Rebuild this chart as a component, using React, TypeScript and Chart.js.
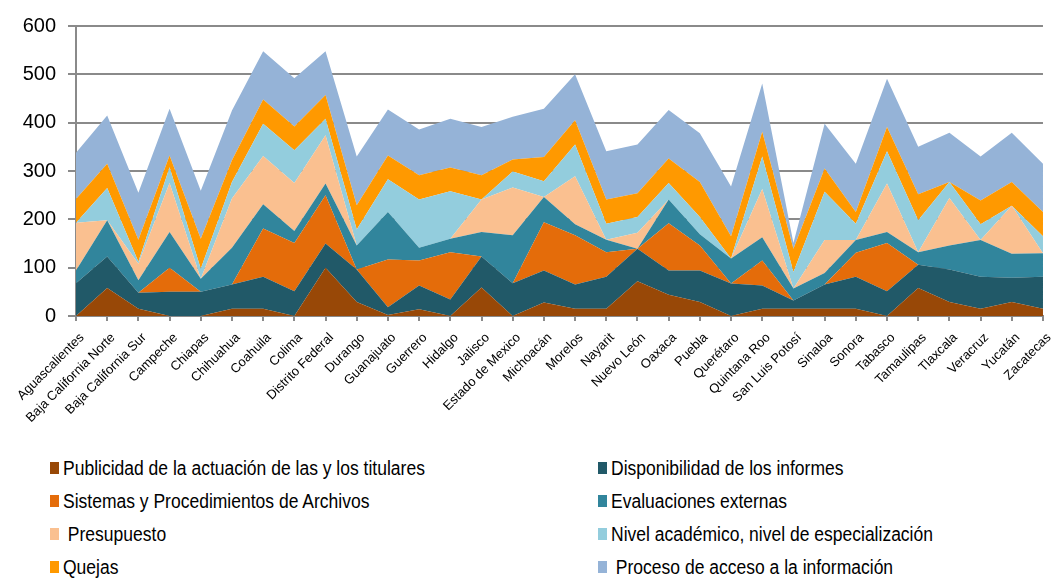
import React, { useEffect, useRef } from "react";
import { Chart, registerables } from "chart.js";

Chart.register(...registerables);

const categories = [
  "Aguascalientes", "Baja California Norte", "Baja California Sur", "Campeche", "Chiapas",
  "Chihuahua", "Coahuila", "Colima", "Distrito Federal", "Durango", "Guanajuato", "Guerrero",
  "Hidalgo", "Jalisco", "Estado de Mexico", "Michoacán", "Morelos", "Nayarit", "Nuevo León",
  "Oaxaca", "Puebla", "Querétaro", "Quintana Roo", "San Luis Potosí", "Sinaloa", "Sonora",
  "Tabasco", "Tamaulipas", "Tlaxcala", "Veracruz", "Yucatán", "Zacatecas",
];

const publicidad = [0, 58, 15, 0, 0, 15, 15, 0, 100, 29, 2, 14, 0, 59, 0, 28, 15, 15, 72, 44, 29, 0, 15, 15, 15, 15, 0, 58, 29, 15, 29, 15];
const disponibilidad = [68, 65, 33, 50, 50, 50, 66, 51, 50, 67, 16, 49, 34, 64, 68, 66, 50, 66, 67, 50, 65, 67, 48, 17, 50, 66, 51, 48, 67, 66, 50, 66];
const sistemas = [0, 0, 0, 50, 0, 0, 100, 100, 100, 0, 99, 52, 98, 0, 0, 100, 102, 51, 0, 98, 52, 0, 52, 0, 0, 50, 100, 0, 0, 0, 0, 0];
const evaluaciones = [26, 75, 26, 74, 27, 76, 50, 25, 24, 50, 98, 26, 28, 51, 99, 52, 23, 26, 0, 49, 23, 52, 48, 25, 24, 26, 23, 26, 50, 76, 50, 49];
const presupuesto = [99, 0, 34, 101, 0, 102, 100, 99, 100, 0, 0, 0, 0, 67, 99, 0, 99, 0, 33, 0, 0, 0, 100, 0, 68, 0, 100, 0, 98, 0, 99, 0];
const nivel = [0, 67, 4, 33, 21, 34, 67, 68, 34, 33, 68, 100, 98, 0, 33, 33, 66, 33, 33, 34, 36, 0, 67, 34, 100, 34, 67, 66, 33, 33, 0, 35];
const quejas = [49, 50, 46, 24, 62, 45, 50, 49, 49, 50, 49, 50, 49, 50, 25, 50, 50, 50, 49, 51, 72, 46, 51, 48, 48, 24, 50, 54, 0, 49, 49, 50];
const proceso = [96, 100, 97, 97, 99, 103, 100, 100, 91, 101, 95, 95, 101, 100, 88, 100, 95, 100, 101, 100, 101, 103, 100, 12, 93, 100, 100, 98, 102, 91, 102, 100];

const seriesNames = [
  "Publicidad de la actuación de las y los titulares",
  "Disponibilidad de los informes",
  "Sistemas y Procedimientos de Archivos",
  "Evaluaciones externas",
  " Presupuesto",
  "Nivel académico, nivel de especialización",
  "Quejas",
  " Proceso de acceso a la información",
];
const seriesData = [publicidad, disponibilidad, sistemas, evaluaciones, presupuesto, nivel, quejas, proceso];
const seriesColors = ["#984807", "#215968", "#E46C0A", "#31859C", "#FAC090", "#93CDDD", "#FF9900", "#95B3D7"];

const yTicks = [0, 100, 200, 300, 400, 500, 600];

export default function App() {
  const ref = useRef<HTMLCanvasElement | null>(null);

  useEffect(() => {
    if (!ref.current) return;
    const chart = new Chart(ref.current, {
      type: "line",
      data: {
        labels: categories,
        datasets: seriesData.map((d, i) => ({
          label: seriesNames[i],
          data: d,
          backgroundColor: seriesColors[i],
          borderColor: seriesColors[i],
          borderWidth: 0,
          pointRadius: 0,
          tension: 0,
          fill: i === 0 ? "origin" : "-1",
        })),
      },
      options: {
        animation: false,
        responsive: false,
        maintainAspectRatio: false,
        layout: { padding: { top: 26, right: 3, left: 0, bottom: 0 } },
        plugins: { legend: { display: false }, tooltip: { enabled: false } },
        scales: {
          x: {
            offset: false,
            grid: { drawOnChartArea: false, drawTicks: true, tickLength: 5, color: "#8a8a8a", lineWidth: 2 },
            border: { color: "#8a8a8a", width: 2 },
            ticks: {
              autoSkip: false,
              minRotation: 45,
              maxRotation: 45,
              padding: 9,
              labelOffset: 6,
              color: "#000",
              font: { family: "'Liberation Sans', Arial, sans-serif", size: 13 },
            },
            afterFit: (s: any) => { s.height = 124; },
          },
          y: {
            stacked: true,
            min: 0,
            max: 600,
            afterBuildTicks: (s: any) => { s.ticks = yTicks.map((v) => ({ value: v })); },
            grid: { color: "#8a8a8a", lineWidth: 2, tickLength: 8, drawTicks: true },
            border: { color: "#8a8a8a", width: 2 },
            ticks: {
              padding: 12,
              color: "#000",
              font: { family: "'Liberation Sans', Arial, sans-serif", size: 20 },
            },
            afterFit: (s: any) => { s.width = 76; },
          },
        },
      },
    });
    return () => chart.destroy();
  }, []);

  const rows = [0, 1, 2, 3];
  return (
    <div style={{ position: "absolute", left: 0, top: 0, width: 1063, height: 578, background: "#fff", overflow: "hidden" }}>
      <canvas ref={ref} width={1063} height={440} style={{ position: "absolute", left: 0, top: 0, width: 1063, height: 440 }} />
      {rows.map((r) =>
        [0, 1].map((c) => {
          const idx = r * 2 + c;
          const left = c === 0 ? 50 : 598;
          const top = 468 + r * 33;
          return (
            <div key={idx} style={{ position: "absolute", left, top: top - 12, height: 24, display: "flex", alignItems: "center" }}>
              <div style={{ width: 9, height: 12, background: seriesColors[idx], marginRight: 4 }} />
              <div
                style={{
                  fontFamily: "'Liberation Sans', Arial, sans-serif",
                  fontSize: 20,
                  color: "#000",
                  whiteSpace: "pre",
                  transform: "scaleX(0.875)",
                  transformOrigin: "left center",
                }}
              >
                {seriesNames[idx]}
              </div>
            </div>
          );
        })
      )}
    </div>
  );
}
